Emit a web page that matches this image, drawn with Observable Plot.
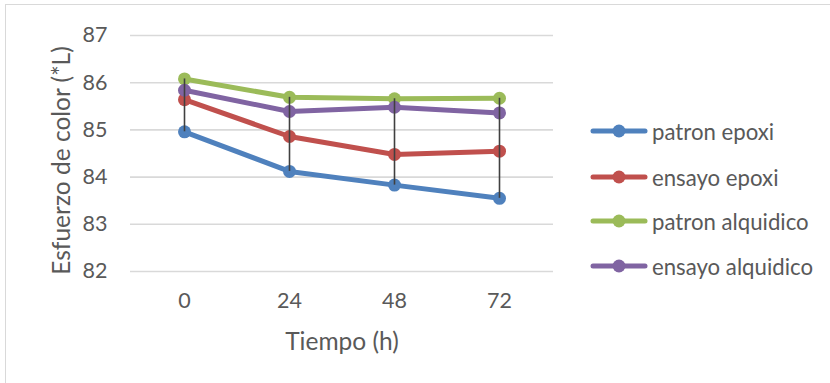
<!DOCTYPE html>
<html>
<head>
<meta charset="utf-8">
<script src="https://cdn.jsdelivr.net/npm/d3@7"></script>
<script src="https://cdn.jsdelivr.net/npm/@observablehq/plot@0.6"></script>
<style>
  html, body { margin: 0; padding: 0; background: #fff; overflow: hidden; }
  #wrap { position: relative; width: 830px; height: 383px; overflow: hidden; font-family: Lato, "Open Sans", sans-serif; }
  #frame { position: absolute; left: 5px; top: 4px; width: 1000px; height: 600px; border: 1.5px solid #d9d9d9; box-sizing: border-box; }
  #chart { position: absolute; left: 0; top: 0; }
  #legend { position: absolute; left: 590px; top: 0; }
  .item { position: absolute; left: 0; display: flex; align-items: center; white-space: nowrap; font-size: 22.2px; color: #595959; height: 30px; }
  .item svg { margin-right: 4px; }
</style>
</head>
<body>
<div id="wrap">
  <div id="frame"></div>
  <div id="chart"></div>
  <div id="legend"></div>
</div>
<script>
const times = ["0", "24", "48", "72"];
const seriesNames = ["patron epoxi", "ensayo epoxi", "patron alquidico", "ensayo alquidico"];
const colors = ["#4F81BD", "#C0504D", "#9BBB59", "#8064A2"];
const patronEpoxi = [84.96, 84.12, 83.83, 83.55];
const ensayoEpoxi = [85.64, 84.86, 84.48, 84.55];
const patronAlquidico = [86.08, 85.69, 85.66, 85.67];
const ensayoAlquidico = [85.84, 85.39, 85.48, 85.36];
const yTicks = [82, 83, 84, 85, 86, 87];
const xTitle = "Tiempo (h)";
const yTitle = "Esfuerzo de color (*L)";

const seriesValues = [patronEpoxi, ensayoEpoxi, patronAlquidico, ensayoAlquidico];
const data = [];
seriesNames.forEach((s, i) => times.forEach((t, j) => data.push({series: s, time: t, value: seriesValues[i][j]})));
const hilo = times.map((t, j) => ({
  time: t,
  lo: d3.min(seriesValues, v => v[j]),
  hi: d3.max(seriesValues, v => v[j])
}));

const chart = Plot.plot({
  width: 830,
  height: 383,
  marginLeft: 130,
  marginRight: 277,
  marginTop: 35,
  marginBottom: 112,
  style: { fontFamily: "Lato, 'Open Sans', sans-serif", fontSize: "21px", color: "#595959", background: "transparent" },
  x: { type: "point", domain: times, padding: 0.5 },
  y: { domain: [82, 87] },
  color: { domain: seriesNames, range: colors },
  marks: [
    Plot.ruleY(yTicks, { stroke: "#d9d9d9", strokeWidth: 1.6 }),
    Plot.axisX({ tickSize: 0, tickPadding: 21, label: null, fill: "#595959", fontSize: 21.5 }),
    Plot.axisY({ ticks: yTicks, tickFormat: d3.format("d"), tickSize: 0, tickPadding: 23, label: null, fill: "#595959", fontSize: 21.5 }),
    Plot.line(data, { x: "time", y: "value", stroke: "series", z: "series", strokeWidth: 5, strokeLinejoin: "round", strokeLinecap: "round" }),
    Plot.dot(data, { x: "time", y: "value", fill: "series", r: 6.5 }),
    Plot.ruleX(hilo, { x: "time", y1: "lo", y2: "hi", stroke: "#404040", strokeWidth: 1.6 }),
    Plot.text([xTitle], { frameAnchor: "bottom", dy: 71, fill: "#595959", fontSize: 24.5, lineAnchor: "middle", textAnchor: "middle" }),
    Plot.text([yTitle], { frameAnchor: "left", dx: -68, dy: 7, rotate: -90, fill: "#595959", fontSize: 24.5, lineAnchor: "middle", textAnchor: "middle" })
  ]
});
document.getElementById("chart").appendChild(chart);

const legendTops = [131, 177, 221, 266];
const legend = document.getElementById("legend");
seriesNames.forEach((s, i) => {
  const item = document.createElement("div");
  item.className = "item";
  item.style.top = (legendTops[i] - 15) + "px";
  item.innerHTML = `<svg width="58" height="16"><line x1="3" x2="55" y1="8" y2="8" stroke="${colors[i]}" stroke-width="5" stroke-linecap="round"/><circle cx="29" cy="8" r="6.5" fill="${colors[i]}"/></svg><span>${s}</span>`;
  legend.appendChild(item);
});
</script>
</body>
</html>
